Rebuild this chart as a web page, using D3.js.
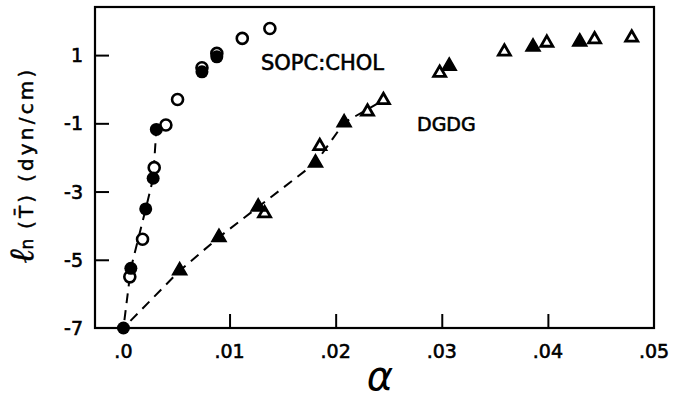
<!DOCTYPE html>
<html>
<head>
<meta charset="utf-8">
<script src="https://cdn.jsdelivr.net/npm/d3@7"></script>
<style>
  body { margin: 0; background: #fff; }
  svg { display: block; }
  text { font-family: "DejaVu Sans", sans-serif; fill: #000; }
</style>
</head>
<body>
<script>
// SOPC:CHOL (circles)
var sopcOpenX = [0.0138, 0.0112, 0.0088, 0.0074, 0.0051, 0.0040, 0.0029, 0.0018, 0.0006];
var sopcOpenY = [1.78, 1.49, 1.05, 0.63, -0.30, -1.05, -2.30, -4.40, -5.50];
var sopcFilledX = [0.0088, 0.0074, 0.0031, 0.0028, 0.0021, 0.0007, 0.0];
var sopcFilledY = [0.95, 0.51, -1.18, -2.61, -3.51, -5.25, -7.0];
var sopcLineX = [0.0, 0.0007, 0.0021, 0.0028, 0.0031];
var sopcLineY = [-7.0, -5.25, -3.51, -2.61, -1.18];

// DGDG (triangles)
var dgdgOpenX = [0.0133, 0.0185, 0.0230, 0.0245, 0.0298, 0.0359, 0.0399, 0.0444, 0.0479];
var dgdgOpenY = [-3.64, -1.67, -0.66, -0.32, 0.48, 1.10, 1.36, 1.46, 1.51];
var dgdgFilledX = [0.0053, 0.0090, 0.0127, 0.0181, 0.0208, 0.0307, 0.0386, 0.0430];
var dgdgFilledY = [-5.32, -4.34, -3.45, -2.16, -0.98, 0.68, 1.24, 1.39];
var dgdgLineX = [0.0, 0.0053, 0.0090, 0.0127, 0.0181, 0.0208, 0.0245];
var dgdgLineY = [-7.0, -5.32, -4.34, -3.45, -2.16, -0.98, -0.32];

var xTicks = [0, 0.01, 0.02, 0.03, 0.04, 0.05];
var xTickLabels = [".0", ".01", ".02", ".03", ".04", ".05"];
var yTicks = [1, -1, -3, -5, -7];
var yTickLabels = ["1", "-1", "-3", "-5", "-7"];

var outerWidth = 676;
var outerHeight = 399;
var margin = { left: 95, top: 7, right: 22, bottom: 71 };
var innerWidth = outerWidth - margin.left - margin.right;
var innerHeight = outerHeight - margin.top - margin.bottom;

var xScale = d3.scaleLinear().domain([-0.00268, 0.05]).range([0, innerWidth]);
var yScale = d3.scaleLinear().domain([-7, 2.41]).range([innerHeight, 0]);

function zip(xs, ys) {
    return xs.map(function(x, i) { return { x: x, y: ys[i] }; });
}

var svg = d3.select("body").append("svg")
    .attr("width", outerWidth)
    .attr("height", outerHeight);

var g = svg.append("g")
    .attr("transform", "translate(" + margin.left + "," + margin.top + ")");

// frame
g.append("rect")
    .attr("width", innerWidth)
    .attr("height", innerHeight)
    .attr("fill", "none")
    .attr("stroke", "#000")
    .attr("stroke-width", 2.2);

// x axis, ticks pointing inward
var xAxis = d3.axisTop(xScale)
    .tickValues(xTicks.slice(1, 5))
    .tickSize(14)
    .tickFormat("");
g.append("g")
    .attr("transform", "translate(0," + innerHeight + ")")
    .call(xAxis)
    .call(function(s) {
        s.select(".domain").remove();
        s.selectAll("line").attr("stroke-width", 2);
    });

g.selectAll(".xlab")
    .data(xTicks)
    .enter().append("text")
    .attr("class", "xlab")
    .attr("x", function(d) { return xScale(d); })
    .attr("y", innerHeight + 30)
    .attr("text-anchor", "middle")
    .attr("font-size", 19)
    .attr("stroke", "#000")
    .attr("stroke-width", 0.6)
    .text(function(d, i) { return xTickLabels[i]; });

var yAxis = d3.axisRight(yScale)
    .tickValues(yTicks.slice(0, 4))
    .tickSize(14)
    .tickFormat("");
g.append("g")
    .call(yAxis)
    .call(function(s) {
        s.select(".domain").remove();
        s.selectAll("line").attr("stroke-width", 2);
    });

g.selectAll(".ylab")
    .data(yTicks)
    .enter().append("text")
    .attr("class", "ylab")
    .attr("x", -12)
    .attr("y", function(d) { return yScale(d) + 7; })
    .attr("text-anchor", "end")
    .attr("font-size", 19)
    .attr("stroke", "#000")
    .attr("stroke-width", 0.6)
    .text(function(d, i) { return yTickLabels[i]; });

// dashed fit lines
var line = d3.line()
    .x(function(d) { return xScale(d.x); })
    .y(function(d) { return yScale(d.y); });

g.append("path")
    .datum(zip(sopcLineX, sopcLineY))
    .attr("d", line)
    .attr("fill", "none")
    .attr("stroke", "#000")
    .attr("stroke-width", 2)
    .attr("stroke-dasharray", "10,7")
    .attr("stroke-dashoffset", -8);

g.append("path")
    .datum(zip(dgdgLineX, dgdgLineY))
    .attr("d", line)
    .attr("fill", "none")
    .attr("stroke", "#000")
    .attr("stroke-width", 2)
    .attr("stroke-dasharray", "10,7")
    .attr("stroke-dashoffset", -10);

// markers
g.selectAll(".copen")
    .data(zip(sopcOpenX, sopcOpenY))
    .enter().append("circle")
    .attr("class", "copen")
    .attr("cx", function(d) { return xScale(d.x); })
    .attr("cy", function(d) { return yScale(d.y); })
    .attr("r", 5.5)
    .attr("fill", "#fff")
    .attr("stroke", "#000")
    .attr("stroke-width", 2.6);

g.selectAll(".cfill")
    .data(zip(sopcFilledX, sopcFilledY))
    .enter().append("circle")
    .attr("class", "cfill")
    .attr("cx", function(d) { return xScale(d.x); })
    .attr("cy", function(d) { return yScale(d.y); })
    .attr("r", 6.5)
    .attr("fill", "#000");

var tri = d3.symbol().type(d3.symbolTriangle);

g.selectAll(".topen")
    .data(zip(dgdgOpenX, dgdgOpenY))
    .enter().append("path")
    .attr("class", "topen")
    .attr("transform", function(d) { return "translate(" + xScale(d.x) + "," + yScale(d.y) + ")"; })
    .attr("d", tri.size(62))
    .attr("fill", "#fff")
    .attr("stroke", "#000")
    .attr("stroke-width", 2.8)
    .attr("stroke-linejoin", "miter");

g.selectAll(".tfill")
    .data(zip(dgdgFilledX, dgdgFilledY))
    .enter().append("path")
    .attr("class", "tfill")
    .attr("transform", function(d) { return "translate(" + xScale(d.x) + "," + yScale(d.y) + ")"; })
    .attr("d", tri.size(90))
    .attr("fill", "#000")
    .attr("stroke", "#000")
    .attr("stroke-width", 1.5);

// annotations
svg.append("text")
    .attr("x", 261)
    .attr("y", 70)
    .attr("font-size", 21)
    .attr("stroke", "#000")
    .attr("stroke-width", 0.6)
    .text("SOPC:CHOL");

svg.append("text")
    .attr("x", 417)
    .attr("y", 131)
    .attr("font-size", 19)
    .attr("stroke", "#000")
    .attr("stroke-width", 0.6)
    .text("DGDG");

// axis titles
svg.append("text")
    .attr("x", 380)
    .attr("y", 390)
    .attr("text-anchor", "middle")
    .attr("font-family", "DejaVu Serif")
    .attr("font-style", "italic")
    .attr("font-size", 40)
    .text("α");

var yTitle = svg.append("text")
    .attr("transform", "translate(33,165) rotate(-90)")
    .attr("text-anchor", "middle")
    .attr("stroke", "#000")
    .attr("stroke-width", 0.5);
yTitle.append("tspan")
    .attr("font-family", "DejaVu Serif")
    .attr("font-style", "italic")
    .attr("font-size", 34)
    .text("ℓ");
yTitle.append("tspan")
    .attr("font-size", 17)
    .text("n");
yTitle.append("tspan")
    .attr("font-size", 20)
    .attr("letter-spacing", 3.2)
    .text(" (T\u0304) (dyn/cm)");
</script>
</body>
</html>
